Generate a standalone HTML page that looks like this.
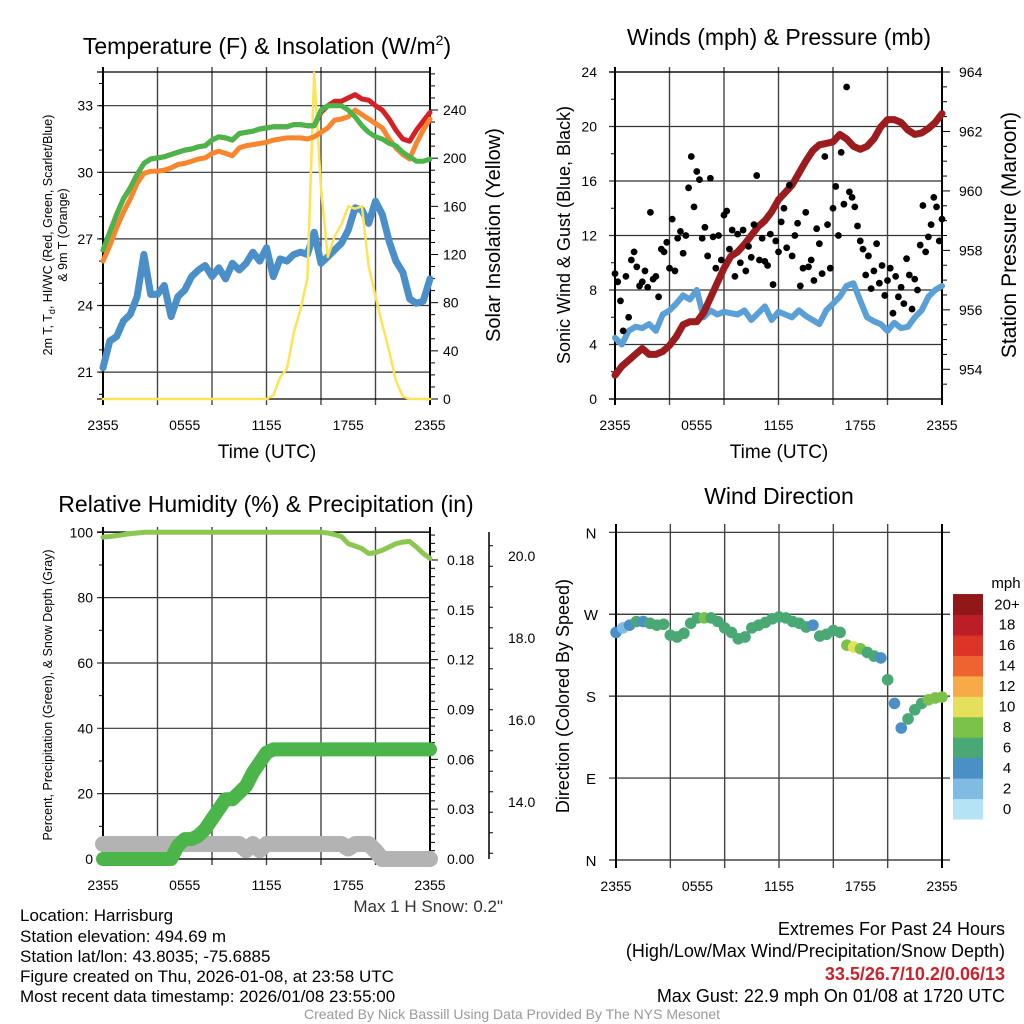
<!DOCTYPE html>
<html><head><meta charset="utf-8"><style>
body{margin:0;background:#fff;}
svg{display:block;font-family:"Liberation Sans",sans-serif;}
</style></head><body>
<svg id="chart" width="1024" height="1024" viewBox="0 0 1024 1024" xmlns="http://www.w3.org/2000/svg">
<rect width="1024" height="1024" fill="#fff"/>
</svg>
<script>
// ===== data =====
const timeLabels = ["2355","0555","1155","1755","2355"];
const hoursHalf = Array.from({length:49},(_,i)=>i*0.5);
const tempRed = [26.5,27.3,28.1,28.8,29.3,29.9,30.4,30.6,30.65,30.7,30.8,30.9,31.0,31.05,31.15,31.2,31.45,31.6,31.55,31.45,31.75,31.8,31.85,31.95,32.0,32.05,32.05,32.05,32.15,32.15,32.1,32.1,32.7,33.0,33.2,33.2,33.35,33.5,33.3,33.25,33.0,32.8,32.4,31.9,31.5,31.4,31.9,32.3,32.7];
const tempGreen = [26.5,27.3,28.1,28.8,29.3,29.9,30.4,30.6,30.65,30.7,30.8,30.9,31.0,31.05,31.15,31.2,31.45,31.6,31.55,31.45,31.75,31.8,31.85,31.95,32.0,32.05,32.05,32.05,32.15,32.15,32.1,32.1,32.8,33.0,33.0,33.0,32.8,32.5,32.1,31.8,31.6,31.5,31.3,31.2,30.9,30.7,30.5,30.5,30.6];
const tempOrange = [26.0,26.7,27.5,28.2,28.8,29.5,29.95,30.05,30.05,30.1,30.2,30.35,30.4,30.5,30.6,30.65,30.85,30.95,30.85,30.75,31.1,31.2,31.25,31.3,31.35,31.45,31.5,31.55,31.55,31.55,31.5,31.6,31.8,32.0,32.35,32.4,32.5,32.8,32.6,32.4,32.2,32.0,31.5,31.1,30.8,30.6,31.3,31.9,32.4];
const dewBlue = [21.2,22.4,22.6,23.3,23.6,24.4,26.3,24.5,24.5,24.9,23.5,24.4,24.7,25.3,25.6,25.8,25.3,25.7,25.2,25.9,25.6,25.9,26.4,26.0,26.6,25.3,26.1,26.0,26.3,26.4,26.3,27.3,25.9,26.2,26.5,26.8,27.4,28.4,28.3,27.7,28.7,28.1,26.9,26.0,25.5,24.3,24.1,24.2,25.2];
const insolation = [0,0,0,0,0,0,0,0,0,0,0,0,0,0,0,0,0,0,0,0,0,0,0,0,0,3,18,25,55,75,100,271,175,118,135,145,160,158,160,110,85,62,40,15,2,0,0,0,0];
const tempTicks = [21,24,27,30,33];
const solarTicks = [0,40,80,120,160,200,240];

const sonicWind = [4.5,4.0,5.0,5.3,5.2,5.5,5.0,6.2,6.5,7.0,7.6,7.3,8.0,6.0,6.5,6.2,6.4,6.3,6.2,6.5,5.8,6.3,6.8,5.8,6.4,6.2,6.0,6.5,6.1,5.8,5.5,6.5,7.0,7.5,8.3,8.5,7.2,6.0,5.7,5.5,5.0,5.6,5.2,5.3,6.0,6.5,7.5,8.0,8.3];
const pressure = [953.8,954.1,954.3,954.5,954.7,954.5,954.5,954.6,954.8,955.1,955.5,955.6,955.6,955.9,956.4,956.9,957.4,957.8,957.95,958.2,958.5,958.8,959.0,959.3,959.7,959.95,960.2,960.6,961.0,961.35,961.55,961.6,961.65,961.9,961.75,961.5,961.4,961.5,961.75,962.15,962.4,962.4,962.3,962.05,961.9,961.95,962.1,962.3,962.6];
const gustHours = Array.from({length:121},(_,i)=>i*0.2);
const gusts = [9.2,8.6,7.2,5.0,9.0,6.0,10.2,10.8,9.7,8.3,8.6,
9.4,8.2,13.7,8.8,9.0,7.5,11.0,10.8,11.5,9.6,
13.2,9.4,11.8,12.3,10.7,12.0,15.5,17.8,14.1,16.7,
16.1,11.8,12.6,10.5,16.2,11.9,9.6,12.0,10.2,13.5,
13.8,11.0,12.4,9.0,12.1,10.0,12.4,9.4,11.2,10.4,
12.8,16.4,10.2,11.8,10.1,9.8,12.1,8.4,11.6,10.8,
13.0,14.0,11.1,15.7,10.5,12.0,12.9,8.3,9.6,13.7,
9.7,10.2,8.7,12.5,11.4,9.2,17.8,12.8,9.6,14.0,
15.6,12.0,18.1,14.3,22.9,15.2,14.8,14.1,12.7,11.6,
11.0,9.1,10.5,8.1,9.4,11.4,8.5,9.8,7.6,8.7,
9.6,6.3,9.0,7.5,8.2,7.0,10.3,9.1,6.6,8.8,
8.0,11.3,14.2,10.8,11.9,12.8,14.8,14.1,11.6,13.2];
const windTicks = [0,4,8,12,16,20,24];
const pressTicks = [954,956,958,960,962,964];

const rh = [98.5,98.7,99,99.3,99.6,99.8,100,100,100,100,100,100,100,100,100,100,100,100,100,100,100,100,100,100,100,100,100,100,100,100,100,100,100,99.8,99.3,98.7,96.5,95.8,95.0,93.5,93.8,94.5,95.5,96.5,97.0,97.2,95.5,93.5,92.0];
const precip = [0,0,0,0,0,0,0,0,0,0,0,0.008,0.012,0.012,0.014,0.018,0.024,0.03,0.036,0.036,0.04,0.044,0.052,0.058,0.064,0.066,0.066,0.066,0.066,0.066,0.066,0.066,0.066,0.066,0.066,0.066,0.066,0.066,0.066,0.066,0.066,0.066,0.066,0.066,0.066,0.066,0.066,0.066,0.066];
const snowDepth = [4.6,4.6,4.6,4.6,4.6,4.6,4.6,4.6,4.6,4.6,4.6,4.6,4.6,4.6,4.6,4.6,4.6,4.6,4.6,4.6,4.6,2.7,4.6,2.7,4.6,4.6,4.6,4.6,4.6,4.6,4.6,4.6,4.6,4.6,4.6,4.6,3.2,4.6,4.6,4.6,2.5,0,0,0,0,0,0,0,0];
const pctTicks = [0,20,40,60,80,100];
const precipTicks = ["0.00","0.03","0.06","0.09","0.12","0.15","0.18"];
const snowTicks = ["14.0","16.0","18.0","20.0"];

const windDir = [250,255,258,262,262,260,258,259,247,245,249,260,266,266,266,262,255,250,243,245,255,258,261,265,267,266,262,260,256,258,246,248,252,250,236,234,232,228,224,222,198,172,145,155,165,172,176,178,179];
const windSpd = [4,3,4,6,5,6,6,6,6,7,7,7,7,8,6,6,6,6,6,7,6,6,7,7,7,6,6,6,6,5,6,6,6,7,9,10,9,7,6,5,6,5,5,6,6,7,8,8,8];
const dirLabels = ["N","E","S","W","N"];
const speedLevels = ["0","2","4","6","8","10","12","14","16","18","20+"];
const speedColors = ["#b5e3f6","#7fbbe3","#4a8fc6","#4aa874","#7bc24a","#e5e05a","#f6aa48","#ee632f","#dc3427","#bb1e26","#911719"];

// ===== helpers =====
const NS="http://www.w3.org/2000/svg";
const svg=document.getElementById('chart');
function el(tag,attrs,parent,text){const e=document.createElementNS(NS,tag);for(const k in attrs)e.setAttribute(k,attrs[k]);if(text!==undefined)e.textContent=text;(parent||svg).appendChild(e);return e;}
function lin(d0,d1,r0,r1){return v=>r0+(v-d0)*(r1-r0)/(d1-d0);}
function pathFrom(xs,ys,fx,fy){return xs.map((x,i)=>(i?'L':'M')+fx(x).toFixed(1)+' '+fy(ys[i]).toFixed(1)).join(' ');}

function frame(g,x0,x1,y0,y1){
  for(let h=0;h<=24;h+=4){const x=x0+(x1-x0)*h/24;
    const l=el('line',{x1:x,x2:x,y1:y0-5,y2:y1+6,stroke:(h%24===0)?'#000':'#444','stroke-width':(h%24===0)?2:1.4},g);
    
    }
  const t=el('line',{x1:x0-6,x2:x1,y1:y0,y2:y0,stroke:'#000','stroke-width':1.3},g);
  
  
  const b=el('line',{x1:x0-6,x2:x1,y1:y1,y2:y1,stroke:'#000','stroke-width':1.3},g);
  
  
  timeLabels.forEach((s,i)=>{const x=x0+(x1-x0)*i/4;
    const tx=el('text',{x:x,y:y1+31,'font-size':14,'text-anchor':'middle'},g,s);
    
    });
}
function hgrid(g,x0,x1,y,lbl,lx){
  const l=el('line',{x1:x0-6,x2:x1,y1:y,y2:y,stroke:'#333','stroke-width':1.2},g);
  
  
  const t=el('text',{x:lx,y:y+5,'font-size':14,'text-anchor':'end'},g,lbl);
  
  
}
function rightTick(g,x,y,lbl,len,lx){
  const l=el('line',{x1:x,x2:x+len,y1:y,y2:y,stroke:'#000','stroke-width':1},g);
  
  
  if(lbl!==null){const t=el('text',{x:lx,y:y+5,'font-size':14},g,lbl);
    
    }
}
function rotText(g,x,y,s,size,name){const t=el('text',{x:x,y:y,'font-size':size,'text-anchor':'middle',transform:`rotate(-90 ${x} ${y})`},g,s);
  
  return t;}
function title(g,x,y,s,size,name){const t=el('text',{x:x,y:y,'font-size':size,'text-anchor':'middle'},g,s);
  
  return t;}
function series(g,xs,ys,fx,fy,color,w,name){const p=el('path',{d:pathFrom(xs,ys,fx,fy),fill:'none',stroke:color,'stroke-width':w,'stroke-linejoin':'round','stroke-linecap':'round'},g);
  
  return p;}

// ===== Panel 1: temperature =====
(function(){
  const g=el('g',{});
  
  
  const X0=103,X1=430,Y0=72,Y1=399;
  const fx=lin(0,24,X0,X1), fy=lin(33,30,105.7,172.3), fs=lin(0,240,399,110);
  const t=el('text',{x:267,y:54,'font-size':23,'text-anchor':'middle'},g);
  
  
  t.innerHTML='Temperature (F) &amp; Insolation (W/m<tspan dy="-9" font-size="14">2</tspan><tspan dy="9">)</tspan>';
  tempTicks.forEach(v=>hgrid(g,X0,X1,fy(v),String(v),93));
  for(let v=20;v<=34;v++){const l=el('line',{x1:X0-4,x2:X0,y1:fy(v),y2:fy(v),stroke:'#000'},g);
    
    }
  frame(g,X0,X1,Y0,Y1);
  for(let v=0;v<=270;v+=10){rightTick(g,X1,fs(v),solarTicks.includes(v)?String(v):null,v%40===0?8:5,443);}
  series(g,hoursHalf,dewBlue,fx,fy,'#4a8fc8',7,'dewpoint-line');
  series(g,hoursHalf,insolation,fx,fs,'#fde456',2.5,'insolation-line');
  series(g,hoursHalf,tempRed,fx,fy,'#d62027',5,'temperature-line');
  series(g,hoursHalf,tempOrange,fx,fy,'#f7862f',5,'temp-9m-line');
  series(g,hoursHalf,tempGreen,fx,fy,'#4bb54a',5,'heat-index-line');
  const a=rotText(g,52,235,'',12.5,'left-axis-title');
  a.innerHTML='2m T, T<tspan font-size="9" dy="3">d</tspan><tspan dy="-3">, HI/WC (Red, Green, Scarlet/Blue)</tspan>';
  rotText(g,67,235,'& 9m T (Orange)',12.5,'left-axis-title-2');
  rotText(g,500,235,'Solar Insolation (Yellow)',20,'right-axis-title');
  title(g,267,458,'Time (UTC)',19,'x-axis-title');
})();

// ===== Panel 2: winds & pressure =====
(function(){
  const g=el('g',{});
  
  
  const X0=615,X1=942,Y0=72,Y1=399;
  const fx=lin(0,24,X0,X1), fy=lin(0,24,399,72), fp=lin(954,964,369.3,72);
  title(g,779,45,'Winds (mph) & Pressure (mb)',23,'wind-title');
  windTicks.forEach(v=>hgrid(g,X0,X1,fy(v),String(v),597));
  for(let v=2;v<24;v+=4){const l=el('line',{x1:X0-4,x2:X0,y1:fy(v),y2:fy(v),stroke:'#000'},g);
    
    }
  frame(g,X0,X1,Y0,Y1);
  for(let v=953.5;v<=964.01;v+=0.5){rightTick(g,X1,fp(v),pressTicks.includes(v)?String(v):null,v%2===0?8:5,959);}
  series(g,hoursHalf,sonicWind,fx,fy,'#5a9fd6',6,'sonic-wind-line');
  series(g,hoursHalf,pressure,fx,fp,'#9b1b1e',7,'pressure-line');
  gusts.forEach((v,i)=>{const c=el('circle',{cx:fx(gustHours[i]),cy:fy(v),r:3.4,fill:'#000'},g);
    
    });
  rotText(g,570,235,'Sonic Wind & Gust (Blue, Black)',18,'left-axis-title');
  rotText(g,1016,235,'Station Pressure (Maroon)',21,'right-axis-title');
  title(g,779,458,'Time (UTC)',19,'x-axis-title');
})();

// ===== Panel 3: RH & precip =====
(function(){
  const g=el('g',{});
  
  
  const X0=103,X1=430,Y0=532,Y1=859;
  const fx=lin(0,24,X0,X1), fy=lin(0,100,859,532.3), fpr=lin(0,0.18,859,560), fsn=lin(14,20,802,556);
  title(g,266,512,'Relative Humidity (%) & Precipitation (in)',23,'humidity-title');
  pctTicks.forEach(v=>hgrid(g,X0,X1,fy(v),String(v),93));
  for(let v=10;v<100;v+=20){const l=el('line',{x1:X0-4,x2:X0,y1:fy(v),y2:fy(v),stroke:'#000'},g);
    
    }
  frame(g,X0,X1,Y0,Y1);
  for(let k=0;k<=39;k++){const v=k*0.005;const maj=(k%6===0);
    rightTick(g,X1,fpr(v),maj?precipTicks[k/6]:null,maj?8:5,447);}
  const ax=el('line',{x1:489,x2:489,y1:532,y2:859,stroke:'#000','stroke-width':1.5},g);
  
  
  for(let v=12.75;v<=20.6;v+=0.5){const y=fsn(v);if(y<532||y>859)continue;const maj=Math.abs(v%2)<0.01;
    const l=el('line',{x1:489,x2:489+(maj?7:4),y1:y,y2:y,stroke:'#000'},g);
    
    }
  snowTicks.forEach(s=>{const t=el('text',{x:508,y:fsn(parseFloat(s))+5,'font-size':14},g,s);
    
    });
  series(g,hoursHalf,snowDepth,fx,fy,'#b3b3b3',16,'snow-depth-line');
  series(g,hoursHalf,precip,fx,fpr,'#4bb54a',14,'precip-line');
  series(g,hoursHalf,rh,fx,fy,'#8cc751',5,'rh-line');
  rotText(g,52,695,'Percent, Precipitation (Green), & Snow Depth (Gray)',12.5,'left-axis-title');
  const m=el('text',{x:503,y:912,'font-size':17,'text-anchor':'end',fill:'#333'},g,'Max 1 H Snow: 0.2"');
  
  
})();

// ===== Panel 4: wind direction =====
(function(){
  const g=el('g',{});
  
  
  const X0=616,X1=942,Y0=532,Y1=860;
  const fx=lin(0,24,X0,X1), fd=lin(0,360,860,532.3);
  title(g,779,504,'Wind Direction',23,'wind-direction-title');
  dirLabels.forEach((s,i)=>{const y=fd(i*90);
    const l=el('line',{x1:X0-7,x2:X1+8,y1:y,y2:y,stroke:'#222','stroke-width':1.2},g);
    
    
    const t=el('text',{x:591,y:y+6,'font-size':15,'text-anchor':'middle'},g,s);
    
    });
  for(let h=0;h<=24;h+=4){const x=fx(h);
    const l=el('line',{x1:x,x2:x,y1:Y0-8,y2:Y1+8,stroke:(h%24===0)?'#000':'#444','stroke-width':(h%24===0)?2:1.4},g);
    
    }
  timeLabels.forEach((s,i)=>{const t=el('text',{x:fx(i*6),y:891,'font-size':14,'text-anchor':'middle'},g,s);
    
    });
  windDir.forEach((d,i)=>{const ci=Math.min(10,Math.floor(windSpd[i]/2));
    const c=el('circle',{cx:fx(hoursHalf[i]),cy:fd(d),r:5.8,fill:speedColors[ci]},g);
    
    });
  rotText(g,569,696,'Direction (Colored By Speed)',18,'left-axis-title');
  const bh=20.45;
  speedLevels.forEach((s,i)=>{const y=819-(i+1)*bh;
    const r=el('rect',{x:953,y:y,width:30,height:bh+0.5,fill:speedColors[i]},g);
    
    
    const t=el('text',{x:1007,y:y+bh/2+5,'font-size':15,'text-anchor':'middle'},g,s);
    
    });
  const u=el('text',{x:1006,y:588,'font-size':15,'text-anchor':'middle'},g,'mph');
  
  
})();

// ===== footer text =====
const leftInfo=["Location: Harrisburg","Station elevation: 494.69 m","Station lat/lon: 43.8035; -75.6885","Figure created on Thu, 2026-01-08, at 23:58 UTC","Most recent data timestamp: 2026/01/08 23:55:00"];
const leftY=[921,942,962,982,1002];
leftInfo.forEach((s,i)=>{const t=el('text',{x:20,y:leftY[i],'font-size':17},svg,s);
  
  });
const rightInfo=["Extremes For Past 24 Hours","(High/Low/Max Wind/Precipitation/Snow Depth)","33.5/26.7/10.2/0.06/13","Max Gust: 22.9 mph On 01/08 at 1720 UTC"];
const rightY=[935,957,980,1002];
rightInfo.forEach((s,i)=>{const t=el('text',{x:1005,y:rightY[i],'font-size':18,'text-anchor':'end',fill:i===2?'#d0202a':'#000','font-weight':i===2?'bold':'normal'},svg,s);
  
  });
const cr=el('text',{x:512,y:1019,'font-size':14,'text-anchor':'middle',fill:'#999'},svg,'Created By Nick Bassill Using Data Provided By The NYS Mesonet');


</script>
</body></html>
